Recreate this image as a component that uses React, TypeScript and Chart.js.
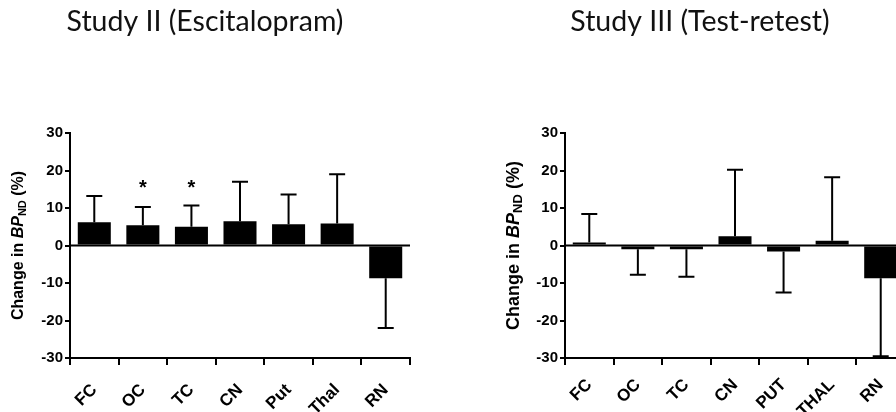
import React, { useEffect, useRef } from "react";
import { Chart, registerables } from "chart.js";

Chart.register(...registerables);

// ---- Data ----
const regionsII = ["FC", "OC", "TC", "CN", "Put", "Thal", "RN"];
const meanII = [6.2, 5.4, 5.0, 6.5, 5.7, 5.9, -8.7];
const sdII = [7.0, 4.9, 5.7, 10.5, 7.9, 13.1, 13.3];
const starsII = ["", "*", "*", "", "", "", ""];
const starLevelII = 16;

const regionsIII = ["FC", "OC", "TC", "CN", "PUT", "THAL", "RN"];
const meanIII = [0.8, -1.0, -1.0, 2.5, -1.6, 1.3, -8.7];
const sdIII = [7.6, 6.8, 7.3, 17.7, 10.9, 16.9, 20.8];
const starsIII = ["", "", "", "", "", "", ""];
const starLevelIII = 16;

const yTicks = [-30, -20, -10, 0, 10, 20, 30];

const AX_FONT = "'Liberation Sans', Arial, sans-serif";
const TITLE_FONT = "Lato, 'Open Sans', sans-serif";

type Cfg = {
  labels: string[];
  means: number[];
  sds: number[];
  stars: string[];
  starLevel: number;
  title: string;
  titleX: number;
  padLeft: number;
  padRight: number;
  yTitleX: number;
  yTitleSize: number;
  xLabelPad: number;
};

function makePlugin(cfg: Cfg) {
  return {
    id: "custom_" + cfg.title.replace(/\W/g, ""),
    afterDatasetsDraw(chart: any) {
      const ctx = chart.ctx;
      const xs = chart.scales.x;
      const ys = chart.scales.y;
      const ca = chart.chartArea;
      ctx.save();
      ctx.strokeStyle = "#000";
      ctx.lineWidth = 2;
      // zero line
      const y0 = ys.getPixelForValue(0);
      ctx.beginPath();
      ctx.moveTo(ca.left, y0);
      ctx.lineTo(ca.right, y0);
      ctx.stroke();
      // error bars
      cfg.means.forEach((m, i) => {
        const x = xs.getPixelForValue(i);
        const end = m >= 0 ? m + cfg.sds[i] : m - cfg.sds[i];
        const ye = ys.getPixelForValue(end);
        const yb = ys.getPixelForValue(m);
        ctx.beginPath();
        ctx.moveTo(x, yb);
        ctx.lineTo(x, ye);
        ctx.moveTo(x - 8, ye);
        ctx.lineTo(x + 8, ye);
        ctx.stroke();
      });
      // stars
      ctx.fillStyle = "#000";
      ctx.font = `bold 20px ${AX_FONT}`;
      ctx.textAlign = "center";
      ctx.textBaseline = "middle";
      cfg.stars.forEach((s, i) => {
        if (!s) return;
        ctx.fillText(s, xs.getPixelForValue(i), ys.getPixelForValue(cfg.starLevel) + 3);
      });
      ctx.restore();
    },
    afterDraw(chart: any) {
      const ctx = chart.ctx;
      const ca = chart.chartArea;
      ctx.save();
      // title
      ctx.fillStyle = "#111";
      ctx.font = `28.5px ${TITLE_FONT}`;
      ctx.textAlign = "center";
      ctx.textBaseline = "alphabetic";
      ctx.fillText(cfg.title, cfg.titleX, 31);
      // y-axis title with italic + subscript
      const fs = cfg.yTitleSize;
      const sub = Math.round(fs * 0.7);
      const parts = [
        { t: "Change in ", f: `bold ${fs}px ${AX_FONT}`, dy: 0 },
        { t: "BP", f: `italic bold ${fs}px ${AX_FONT}`, dy: 0 },
        { t: "ND", f: `bold ${sub}px ${AX_FONT}`, dy: fs * 0.25 },
        { t: " (%)", f: `bold ${fs}px ${AX_FONT}`, dy: 0 },
      ];
      let total = 0;
      const widths = parts.map((p) => {
        ctx.font = p.f;
        const w = ctx.measureText(p.t).width;
        total += w;
        return w;
      });
      const cy = (ca.top + ca.bottom) / 2;
      ctx.translate(cfg.yTitleX, cy);
      ctx.rotate(-Math.PI / 2);
      ctx.textAlign = "left";
      ctx.textBaseline = "middle";
      ctx.fillStyle = "#000";
      let x = -total / 2;
      parts.forEach((p, i) => {
        ctx.font = p.f;
        ctx.fillText(p.t, x, p.dy);
        x += widths[i];
      });
      ctx.restore();
    },
  };
}

function makeChart(canvas: HTMLCanvasElement, cfg: Cfg) {
  const yFont = { family: AX_FONT, size: 15, weight: "bold" as const };
  const xFont = { family: AX_FONT, size: 17, weight: "bold" as const };
  return new Chart(canvas, {
    type: "bar",
    data: {
      labels: cfg.labels,
      datasets: [
        {
          data: cfg.means,
          backgroundColor: "#000",
          borderWidth: 0,
          barPercentage: 0.68,
          categoryPercentage: 1,
        },
      ],
    },
    options: {
      responsive: false,
      animation: false,
      layout: { padding: { left: cfg.padLeft, right: cfg.padRight, top: 133, bottom: 0 } },
      plugins: {
        legend: { display: false },
        tooltip: { enabled: false },
        title: { display: false },
      },
      scales: {
        x: {
          grid: {
            display: true,
            drawOnChartArea: false,
            drawTicks: true,
            tickLength: 7,
            color: "#000",
            lineWidth: 2,
          },
          border: { display: true, color: "#000", width: 2 },
          ticks: {
            minRotation: 45,
            maxRotation: 45,
            autoSkip: false,
            color: "#000",
            font: xFont,
            padding: cfg.xLabelPad,
          },
          afterFit: (s: any) => {
            s.height = 54;
          },
        },
        y: {
          min: -30,
          max: 30,
          afterBuildTicks: (s: any) => {
            s.ticks = yTicks.map((v) => ({ value: v }));
          },
          grid: {
            display: true,
            drawOnChartArea: false,
            drawTicks: true,
            tickLength: 5,
            color: "#000",
            lineWidth: 2,
          },
          border: { display: true, color: "#000", width: 2 },
          ticks: { color: "#000", font: yFont, padding: 2 },
          afterFit: (s: any) => {
            s.width = 70;
          },
        },
      },
    },
    plugins: [makePlugin(cfg)],
  });
}

function ChartCanvas({ cfg, left, width }: { cfg: Cfg; left: number; width: number }) {
  const ref = useRef<HTMLCanvasElement | null>(null);
  useEffect(() => {
    if (!ref.current) return;
    const c = makeChart(ref.current, cfg);
    return () => c.destroy();
  }, []);
  return (
    <canvas
      ref={ref}
      width={width}
      height={412}
      style={{ position: "absolute", left, top: 0, width, height: 412 }}
    />
  );
}

export default function App() {
  const cfgII: Cfg = {
    labels: regionsII,
    means: meanII,
    sds: sdII,
    stars: starsII,
    starLevel: starLevelII,
    title: "Study II (Escitalopram)",
    titleX: 205,
    padLeft: 0,
    padRight: 38,
    yTitleX: 19,
    yTitleSize: 16,
    xLabelPad: 15,
  };
  const cfgIII: Cfg = {
    labels: regionsIII,
    means: meanIII,
    sds: sdIII,
    stars: starsIII,
    starLevel: starLevelIII,
    title: "Study III (Test-retest)",
    titleX: 252,
    padLeft: 47,
    padRight: 23,
    yTitleX: 66,
    yTitleSize: 18,
    xLabelPad: 10,
  };
  return (
    <div
      style={{
        position: "fixed",
        left: 0,
        top: 0,
        width: 896,
        height: 412,
        overflow: "hidden",
        background: "#fff",
      }}
    >
      <ChartCanvas cfg={cfgII} left={0} width={448} />
      <ChartCanvas cfg={cfgIII} left={448} width={480} />
    </div>
  );
}
